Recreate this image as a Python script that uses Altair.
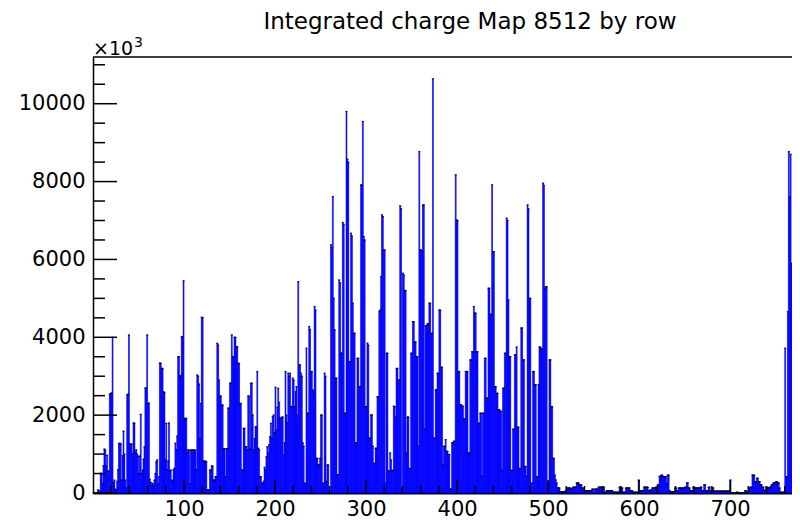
import altair as alt
import pandas as pd

title_text = "Integrated charge Map 8512 by row"
exponent_base = "×10"
exponent_power = "3"

# Integrated charge per row (displayed in units of 10^3), rows 0..767
charge = [
    0, 0, 0, 0, 0, 80, 60, 0, 510, 480,
    250, 700, 1130, 1100, 690, 970, 560, 560, 2540, 2560,
    2570, 4000, 270, 330, 100, 80, 300, 600, 1270, 1280,
    1260, 330, 960, 1590, 1000, 330, 130, 2520, 2540, 4060,
    1260, 1250, 1260, 1000, 1800, 1790, 1050, 1110, 1000, 950,
    500, 950, 2020, 500, 590, 870, 1190, 2700, 2690, 4060,
    2300, 2310, 350, 270, 200, 250, 200, 330, 500, 800,
    850, 230, 420, 3340, 3330, 3200, 3200, 2600, 2580, 850,
    1790, 600, 820, 1800, 560, 590, 300, 334, 600, 634,
    1280, 1110, 1460, 3500, 3500, 3020, 3000, 4020, 4000, 5450,
    1920, 1900, 1920, 1040, 1110, 1100, 230, 1100, 1110, 1100,
    1110, 1100, 1100, 600, 3030, 3000, 2800, 1400, 2300, 4515,
    4500, 820, 820, 820, 800, 80, 80, 80, 590, 590,
    694, 694, 334, 334, 420, 420, 3846, 3800, 2900, 2490,
    2490, 2260, 2260, 1140, 1140, 420, 1140, 1140, 2180, 2180,
    2820, 2820, 4060, 3500, 3500, 4000, 4000, 3760, 3760, 3330,
    3330, 2300, 2300, 590, 590, 1660, 1660, 1190, 1190, 1110,
    2490, 2490, 1120, 2820, 2820, 2000, 1110, 1400, 1700, 1700,
    3120, 1150, 1110, 420, 420, 250, 250, 300, 660, 600,
    930, 1190, 1030, 1240, 1447, 1790, 1410, 1960, 2005, 1550,
    2716, 1610, 2200, 2690, 2330, 1920, 1920, 1950, 1950, 970,
    1290, 3120, 2000, 1800, 3076, 3000, 3076, 2220, 2220, 2950,
    2900, 2220, 2600, 2733, 2000, 5430, 3290, 3290, 3076, 3000,
    1290, 1200, 250, 250, 3720, 2050, 2050, 4275, 4200, 3120,
    3120, 2650, 2600, 4790, 4700, 890, 890, 720, 720, 890,
    2005, 2000, 250, 250, 3076, 3000, 300, 720, 720, 0,
    0, 6374, 6300, 7616, 5000, 4190, 2950, 2950, 470, 470,
    5474, 5400, 3590, 3590, 6947, 6900, 2050, 2050, 9800, 8576,
    8500, 3375, 3375, 6673, 6600, 4875, 4104, 4104, 1290, 1290,
    3460, 3460, 2733, 2733, 7916, 7900, 9543, 6588, 6500, 2220,
    2220, 3847, 3800, 1410, 1410, 2005, 2005, 1200, 760, 760,
    1150, 1150, 2475, 2475, 4660, 4700, 5560, 7145, 7100, 6245,
    6245, 250, 3590, 3590, 580, 550, 1030, 850, 580, 580,
    2230, 2220, 1950, 3200, 3200, 2900, 2900, 7376, 7300, 100,
    5646, 5600, 5200, 5200, 1030, 1950, 1950, 630, 630, 3590,
    3590, 4400, 4400, 3880, 3880, 3500, 3500, 1200, 8770, 6245,
    6245, 6200, 7400, 7400, 1640, 4300, 4300, 4350, 4350, 4875,
    4875, 4100, 4100, 10640, 1410, 1410, 2650, 2650, 3076, 3076,
    4700, 4700, 3230, 3230, 720, 1200, 1200, 1370, 1070, 1070,
    990, 990, 100, 100, 1290, 1290, 1330, 1330, 8173, 7016,
    7000, 3120, 3120, 2270, 2270, 2230, 2230, 1900, 1900, 3120,
    3120, 3120, 1030, 1030, 3420, 3420, 3630, 3630, 4790, 4620,
    4620, 3630, 3630, 1790, 1790, 2050, 2050, 430, 2050, 2050,
    3460, 3460, 2440, 2440, 5260, 5260, 4590, 4590, 7916, 6200,
    6200, 2733, 2733, 2560, 2560, 2140, 2140, 2100, 2100, 580,
    2690, 2690, 3590, 3590, 7060, 7000, 4960, 3500, 3500, 580,
    580, 1640, 1640, 3550, 3550, 3750, 1690, 1690, 630, 630,
    4240, 4240, 3420, 3420, 680, 680, 430, 7400, 7300, 5000,
    5000, 250, 250, 3120, 3120, 2780, 2780, 420, 420, 2780,
    3750, 3750, 3700, 3700, 7960, 7900, 5260, 5300, 5300, 250,
    250, 3420, 3420, 2220, 2220, 890, 890, 460, 334, 257,
    130, 130, 130, 35, 35, 35, 35, 35, 35, 70,
    70, 130, 130, 130, 130, 100, 100, 150, 150, 150,
    150, 260, 260, 260, 210, 210, 210, 130, 130, 50,
    50, 60, 60, 60, 60, 60, 60, 60, 100, 100,
    0, 100, 100, 100, 100, 150, 150, 150, 150, 150,
    150, 150, 20, 20, 60, 60, 60, 60, 60, 60,
    60, 20, 20, 20, 20, 20, 20, 20, 150, 150,
    130, 130, 20, 20, 20, 130, 130, 130, 130, 130,
    60, 60, 60, 20, 20, 20, 20, 20, 20, 334,
    60, 60, 60, 60, 60, 150, 150, 150, 150, 150,
    60, 60, 80, 80, 130, 130, 130, 130, 150, 150,
    210, 210, 430, 430, 460, 460, 420, 420, 420, 420,
    240, 460, 460, 60, 35, 35, 35, 35, 35, 130,
    130, 60, 60, 130, 130, 130, 130, 130, 130, 130,
    150, 150, 260, 260, 130, 130, 60, 60, 60, 150,
    150, 130, 130, 130, 130, 130, 130, 150, 150, 60,
    60, 210, 210, 60, 60, 60, 150, 150, 60, 60,
    130, 130, 50, 50, 50, 50, 50, 50, 50, 50,
    50, 50, 50, 50, 50, 50, 50, 50, 50, 50,
    334, 0, 0, 0, 0, 0, 0, 20, 20, 0,
    0, 0, 0, 0, 0, 0, 60, 60, 20, 20,
    130, 130, 150, 150, 460, 460, 460, 290, 290, 380,
    380, 290, 290, 210, 210, 150, 150, 70, 70, 150,
    150, 130, 130, 150, 150, 210, 210, 260, 260, 260,
    290, 290, 260, 260, 130, 20, 20, 20, 20, 20,
    3720, 420, 420, 4660, 8770, 7600, 8700, 5900,
]

x_major = [100, 200, 300, 400, 500, 600, 700]
x_minor = [20, 40, 60, 80, 120, 140, 160, 180, 220, 240, 260, 280,
           320, 340, 360, 380, 420, 440, 460, 480, 520, 540, 560, 580,
           620, 640, 660, 680, 720, 740, 760]
y_major = [0, 2000, 4000, 6000, 8000, 10000]
y_minor = [500, 1000, 1500, 2500, 3000, 3500, 4500, 5000, 5500, 6500,
           7000, 7500, 8500, 9000, 9500, 10500, 11000]

W, H = 699, 436
FONT = "DejaVu Sans"
BLUE = "#0000ff"

df = pd.DataFrame({"row": list(range(len(charge))), "charge": charge})
df["row_end"] = df["row"] + 1
df["row_mid"] = df["row"] + 0.5
df["base"] = 0

xs = alt.Scale(domain=[0, 768], nice=False, zero=False)
ys = alt.Scale(domain=[0, 11200], nice=False, zero=False)

x_axis = alt.Axis(
    values=x_major, title=None, grid=False, ticks=False,
    domain=True, domainColor="black", domainWidth=2,
    labelFont=FONT, labelFontSize=21, labelColor="black",
    labelPadding=5, labelFlush=False, labelOverlap=False)
y_axis = alt.Axis(
    values=y_major, title=None, grid=False, ticks=False,
    domain=True, domainColor="black", domainWidth=1.5,
    labelFont=FONT, labelFontSize=21, labelColor="black",
    labelPadding=8, labelFlush=False, labelOverlap=False, format="d")

bars = alt.Chart(df).mark_rect(
    color=BLUE, stroke=BLUE, strokeWidth=0.6
).encode(
    x=alt.X("row:Q", scale=xs, axis=x_axis),
    x2="row_end:Q",
    y=alt.Y("charge:Q", scale=ys, axis=y_axis),
    y2="base:Q",
)

markers = alt.Chart(df).mark_tick(
    orient="horizontal", size=2.2, thickness=1.3, color="black"
).encode(
    x=alt.X("row_mid:Q", scale=xs, axis=x_axis),
    y=alt.Y("charge:Q", scale=ys, axis=y_axis),
)

ymaj = alt.Chart(pd.DataFrame({"v": y_major})).mark_rule(
    color="black", strokeWidth=1.5).encode(
    y=alt.Y("v:Q", scale=ys, axis=y_axis), x=alt.value(0), x2=alt.value(24))
ymin = alt.Chart(pd.DataFrame({"v": y_minor})).mark_rule(
    color="black", strokeWidth=1.5).encode(
    y=alt.Y("v:Q", scale=ys, axis=y_axis), x=alt.value(0), x2=alt.value(12))
xmaj = alt.Chart(pd.DataFrame({"v": x_major})).mark_rule(
    color="black", strokeWidth=1.5).encode(
    x=alt.X("v:Q", scale=xs, axis=x_axis), y=alt.value(H), y2=alt.value(H - 13))
xmin = alt.Chart(pd.DataFrame({"v": x_minor})).mark_rule(
    color="black", strokeWidth=1.5).encode(
    x=alt.X("v:Q", scale=xs, axis=x_axis), y=alt.value(H), y2=alt.value(H - 7))

top_frame = alt.Chart(pd.DataFrame({"v": [0]})).mark_rule(
    color="black", strokeWidth=1.5).encode(
    x=alt.value(0), x2=alt.value(W + 2), y=alt.value(0))

title = alt.Chart(pd.DataFrame({"t": [title_text]})).mark_text(
    font=FONT, fontSize=23, color="black", align="center", baseline="alphabetic"
).encode(text="t:N", x=alt.value(377), y=alt.value(-28))

exp_base = alt.Chart(pd.DataFrame({"t": [exponent_base]})).mark_text(
    font=FONT, fontSize=19, color="black", align="left", baseline="alphabetic"
).encode(text="t:N", x=alt.value(0), y=alt.value(-2))
exp_pow = alt.Chart(pd.DataFrame({"t": [exponent_power]})).mark_text(
    font=FONT, fontSize=14, color="black", align="left", baseline="alphabetic"
).encode(text="t:N", x=alt.value(41), y=alt.value(-10))

chart = alt.layer(
    bars, markers, ymaj, ymin, xmaj, xmin, top_frame, title, exp_base, exp_pow
).properties(
    width=W, height=H,
    autosize=alt.AutoSizeParams(type="none"),
    padding={"left": 85, "top": 49, "right": 0, "bottom": 29},
    background="white",
).configure_view(stroke="transparent", strokeWidth=0)

chart.save("out.html", embed_options={"renderer": "svg", "actions": False})
